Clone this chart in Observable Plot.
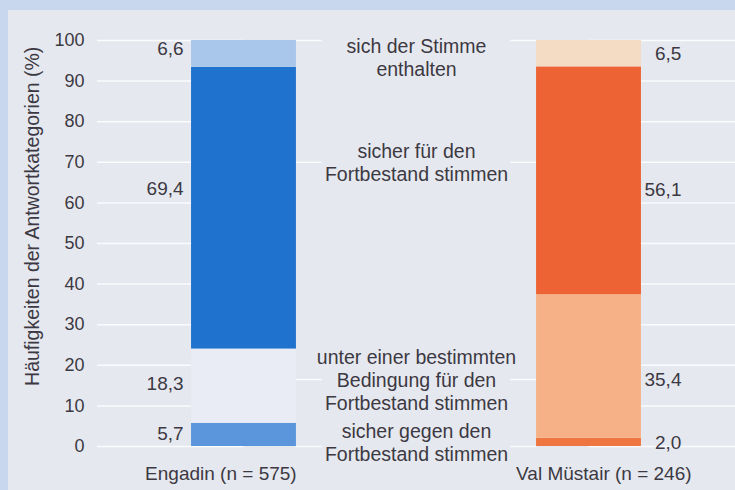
<!DOCTYPE html>
<html><head><meta charset="utf-8">
<script src="https://cdn.jsdelivr.net/npm/d3@7"></script>
<script src="https://cdn.jsdelivr.net/npm/@observablehq/plot@0.6"></script>
<style>
html,body{margin:0;padding:0;background:#e6e8f0;}
#chart{width:735px;height:490px;background:#e6e8f0;box-shadow:inset 8px 10px 0 0 #c9d7ee;overflow:hidden;}
</style></head><body><div id="chart"></div>
<script>
// ---- data ----
const regions = ["Engadin (n = 575)", "Val Müstair (n = 246)"];
const categories = [
  "sicher gegen den\nFortbestand stimmen",
  "unter einer bestimmten\nBedingung für den\nFortbestand stimmen",
  "sicher für den\nFortbestand stimmen",
  "sich der Stimme\nenthalten"
];
const engadinValues = [5.7, 18.3, 69.4, 6.6];
const valMustairValues = [2.0, 35.4, 56.1, 6.5];
const yTicks = [0, 10, 20, 30, 40, 50, 60, 70, 80, 90, 100];
const yTitle = "Häufigkeiten der Antwortkategorien (%)";

// ---- styles / layout ----
const engadinColors = ["#5b96dc", "#e9ecf4", "#1f72cd", "#a9c7ea"];
const valColors = ["#ef7640", "#f6b286", "#ee6333", "#f4dcc4"];
const textColor = "#3c3942";
const gridColor = "#fafbfd";
const barHalf = 0.152;
const xDomain = [-0.4246, 1.4246];
const valueLabelAt = [[3.2, 15.3, 63.5, 98.0], [1.0, 16.3, 63.1, 96.6]];
const categoryLabelAt = [1.1, 16.4, 70.1, 95.9];
const leaderAt = [0, 16.5, 70, 100];
const leaderLen = 0.075;
const regionLabelShift = [-0.067, 0.043];
const titleAt = {x: -0.613, y: 56.7};

const series = [engadinValues, valMustairValues];
const palettes = [engadinColors, valColors];
const segs = [];
series.forEach((vals, i) => {
  let c = 0;
  vals.forEach((v, j) => {
    segs.push({i, j, y1: c, y2: c + v, v, fill: palettes[i][j],
      label: v.toFixed(1).replace(".", ","), ly: valueLabelAt[i][j]});
    c += v;
  });
});

const font = "'Liberation Sans', Arial, Helvetica, sans-serif";

const chart = Plot.plot({
  width: 735,
  height: 490,
  marginLeft: 97,
  marginRight: 0,
  marginTop: 40,
  marginBottom: 44,
  style: `background:transparent;font-family:${font};font-size:18px;color:${textColor};overflow:visible;`,
  x: {type: "linear", domain: xDomain, axis: null},
  y: {domain: [0, 100], ticks: yTicks, tickSize: 0, tickPadding: 13, label: null},
  color: {type: "identity"},
  marks: [
    Plot.ruleY(yTicks, {y: d => d, x1: () => xDomain[0], x2: () => 0, stroke: gridColor, strokeWidth: 1.5}),
    Plot.ruleY(yTicks, {y: d => d, x1: () => 1, x2: () => xDomain[1], stroke: gridColor, strokeWidth: 1.5}),
    Plot.rect(segs, {x1: d => d.i - barHalf, x2: d => d.i + barHalf, y1: "y1", y2: "y2", fill: "fill"}),
    Plot.ruleY(leaderAt, {y: d => d, x1: () => barHalf, x2: () => barHalf + leaderLen, stroke: gridColor, strokeWidth: 1.5}),
    Plot.ruleY(leaderAt, {y: d => d, x1: () => 1 - barHalf - leaderLen, x2: () => 1 - barHalf, stroke: gridColor, strokeWidth: 1.5}),
    Plot.text(segs.filter(d => d.i === 0), {x: d => d.i - barHalf, y: "ly", text: "label", textAnchor: "end", dx: -8, fontSize: 19, fill: textColor}),
    Plot.text(segs.filter(d => d.i === 1), {x: d => d.i + barHalf, y: "ly", text: "label", textAnchor: "end", dx: 40, fontSize: 19, fill: textColor}),
    Plot.text(categories, {x: () => 0.5, y: (d, j) => categoryLabelAt[j], text: d => d, lineAnchor: "middle", lineHeight: 1.17, fontSize: 19.5, fill: textColor}),
    Plot.text(regions, {x: (d, i) => i + regionLabelShift[i], y: () => 0, text: d => d, dy: 27, fontSize: 19, fill: textColor}),
    Plot.text([yTitle], {x: () => titleAt.x, y: () => titleAt.y, rotate: -90, text: d => d, fontSize: 19.5, fill: textColor, clip: false})
  ]
});
document.getElementById("chart").appendChild(chart);
</script>
</body></html>
